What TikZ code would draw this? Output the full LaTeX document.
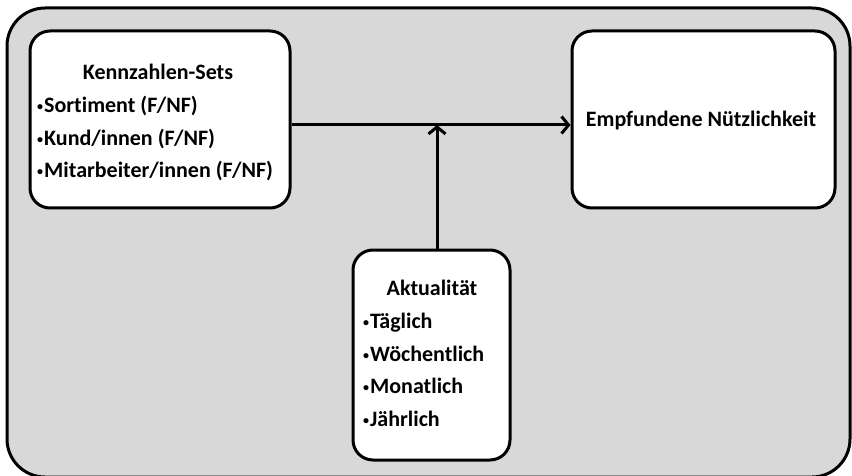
\documentclass[tikz,border=0pt]{standalone}
\usepackage{fontspec}
\setmainfont[Ligatures={NoCommon}]{Carlito}
\usetikzlibrary{arrows.meta}
\definecolor{bg}{HTML}{D8D8D8}
\newcommand{\bul}{\raisebox{2pt}{\fontsize{12}{12}\selectfont\textbullet}\kern1pt}
\tikzset{
  box/.style={draw=black, line width=3pt, fill=white, rounded corners=20pt, inner sep=0pt},
  arr/.style={line width=3pt, -{Straight Barb[length=7pt,width=17pt]}},
  txt/.style={font=\bfseries\fontsize{22}{24}\selectfont, inner sep=0pt, anchor=base west},
  ttl/.style={font=\bfseries\fontsize{22}{24}\selectfont, inner sep=0pt, anchor=base},
}
\begin{document}
\begin{tikzpicture}[x=1pt,y=-1pt]
\useasboundingbox (0,0) rectangle (852,476);
\draw[line width=3pt, fill=bg, rounded corners=38pt] (7,8) rectangle (850,477);
\node[box, minimum width=260pt, minimum height=177pt] (L) at (160,119.5) {};
\node[box, minimum width=263pt, minimum height=177pt] (R) at (703.5,119.5) {};
\node[box, minimum width=157pt, minimum height=210pt] (B) at (431.5,355) {};
\coordinate (J) at (437,125);
\draw[arr] ([yshift=-5.5pt]L.east) -- ([yshift=-5.5pt]R.west);
\draw[arr] ([xshift=5.5pt]B.north) -- (J);
% texts
\node[ttl] (t1) at (158,80) {Kennzahlen-Sets};
\node[txt] (a1) at (37,113) {\bul Sortiment (F/NF)};
\node[txt] (a2) at (37,146) {\bul Kund/innen (F/NF)};
\node[txt] (a3) at (37,178) {\bul Mitarbeiter/innen (F/NF)};
\node[ttl] (t2) at (701,127) {Empfundene Nützlichkeit};
\node[ttl] (t3) at (432,295) {Aktualität};
\node[txt] (b1) at (363,328) {\bul Täglich};
\node[txt] (b2) at (363,361) {\bul Wöchentlich};
\node[txt] (b3) at (363,393) {\bul Monatlich};
\node[txt] (b4) at (363,426) {\bul Jährlich};
\end{tikzpicture}
\end{document}
